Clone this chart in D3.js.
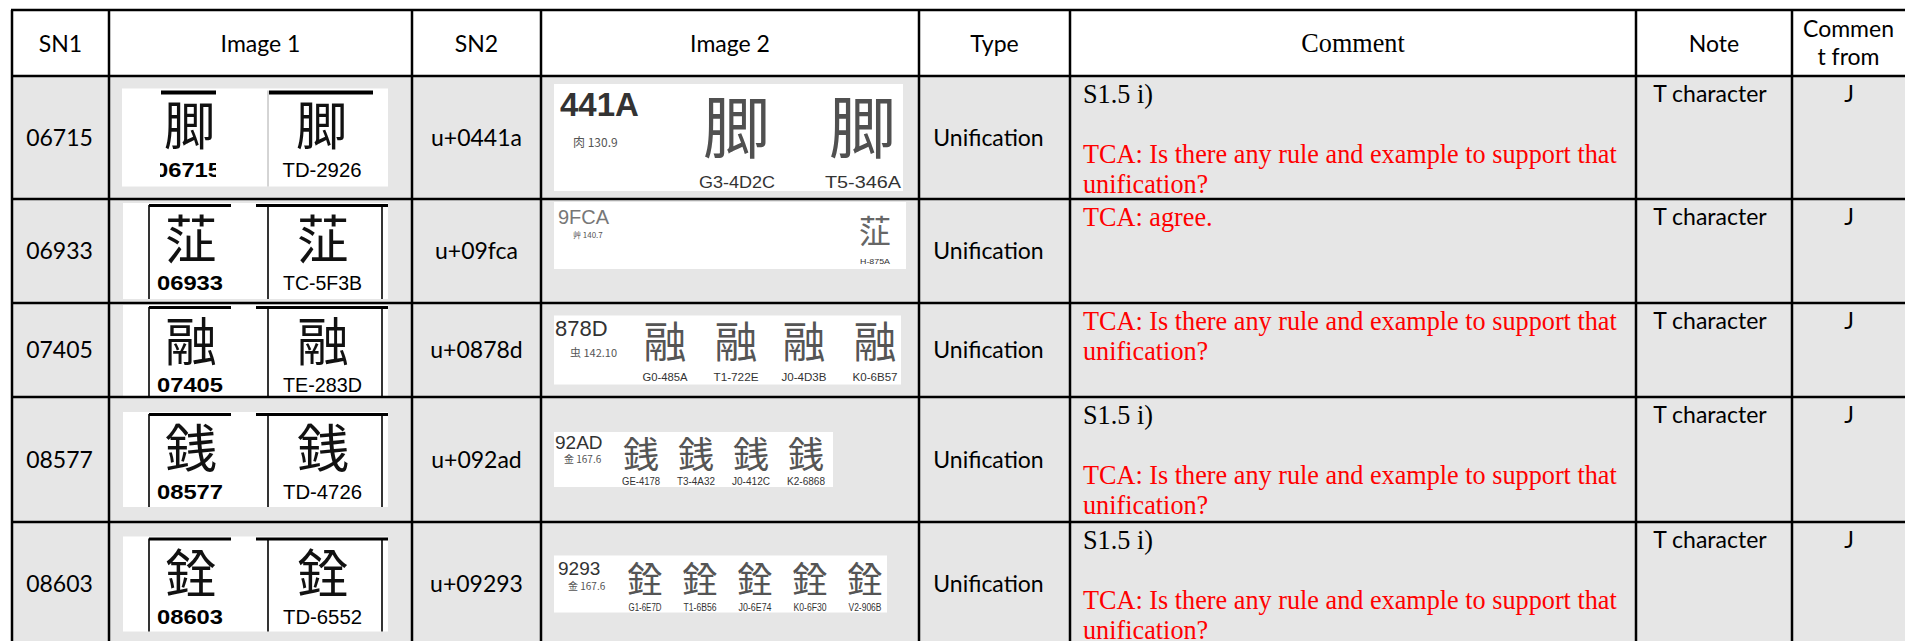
<!DOCTYPE html>
<html><head><meta charset="utf-8">
<script src="https://cdn.jsdelivr.net/npm/d3@7"></script>
<style>html,body{margin:0;padding:0;background:#fff;overflow:hidden}</style>
</head><body><svg id="c" width="1905" height="641"></svg>
<script>
// ---------- data ----------
const headers = [["SN1"],["Image 1"],["SN2"],["Image 2"],["Type"],["Comment"],["Note"],["Commen","t from"]];
const sn1 = ["06715","06933","07405","08577","08603"];
const sn2 = ["u+0441a","u+09fca","u+0878d","u+092ad","u+09293"];
const glyphs = ["\u441A","\u9FCA","\u878D","\u92AD","\u9293"];
const img1Labels = ["TD-2926","TC-5F3B","TE-283D","TD-4726","TD-6552"];
const img2Codes = ["441A","9FCA","878D","92AD","9293"];
const img2Radicals = ["肉 130.9","艸 140.7","虫 142.10","金 167.6","金 167.6"];
const img2Sources = [
  ["G3-4D2C","T5-346A"],
  ["H-875A"],
  ["G0-485A","T1-722E","J0-4D3B","K0-6B57"],
  ["GE-4178","T3-4A32","J0-412C","K2-6868"],
  ["G1-6E7D","T1-6B56","J0-6E74","K0-6F30","V2-906B"]
];
const types = ["Unification","Unification","Unification","Unification","Unification"];
const commentRefs = ["S1.5 i)","","","S1.5 i)","S1.5 i)"];
const commentTCA = [
  "TCA: Is there any rule and example to support that unification?",
  "TCA: agree.",
  "TCA: Is there any rule and example to support that unification?",
  "TCA: Is there any rule and example to support that unification?",
  "TCA: Is there any rule and example to support that unification?"
];
const notes = ["T character","T character","T character","T character","T character"];
const commentFrom = ["J","J","J","J","J"];

// ---------- layout ----------
const W = 1905, H = 641;
const colEdges = [12,109,412,541,919,1070,1636,1792,1905];
const rowEdges = [10,76,199,303,397,522,646];
const sans = "Lato, 'Open Sans', sans-serif";
const serif = "'Liberation Serif','Times New Roman',serif";
const arial = "'Liberation Sans', Arial, sans-serif";
const cjk = "'Noto Sans CJK TC','Noto Sans CJK JP','Noto Sans CJK SC',sans-serif";
const bodyFill = "#e6e6e6";
const sfs = 23;

const img1Layout = [
  {style:"open", x:122, w:266, h:98},
  {style:"framed", x:123, w:265, h:96},
  {style:"framed", x:123, w:265, h:92},
  {style:"framed", x:123, w:265, h:95},
  {style:"framed", x:123, w:265, h:95}
];
const img2Layout = [
  {w:349,h:107,align:"mid", code:{dx:6,by:32,fs:33,bold:true,fill:"#333"}, rad:{dx:19,by:63,fs:12}, chars:{x:[183,309],cy:45,fs:68,fill:"#505050"}, lab:{by:104,fs:17,tl:76}},
  {w:352,h:67,align:"top", code:{dx:4,by:22,fs:20,bold:false,fill:"#777"}, rad:{dx:19,by:36,fs:8}, chars:{x:[321],cy:29,fs:32,fill:"#666"}, lab:{by:62,fs:8,tl:30}},
  {w:347,h:69,align:"mid", code:{dx:1,by:20,fs:22,bold:false,fill:"#333"}, rad:{dx:16,by:41,fs:11}, chars:{x:[111,182,250,321],cy:27,fs:43,fill:"#555"}, lab:{by:65,fs:11,tl:45}},
  {w:279,h:55,align:"mid", code:{dx:1,by:17,fs:19,bold:false,fill:"#333"}, rad:{dx:10,by:31,fs:10}, chars:{x:[87,142,197,252],cy:23,fs:36,fill:"#555"}, lab:{by:53,fs:10,tl:38}},
  {w:333,h:57,align:"mid", code:{dx:4,by:19,fs:19,bold:false,fill:"#333"}, rad:{dx:14,by:34,fs:10}, chars:{x:[91,146,201,256,311],cy:25,fs:36,fill:"#555"}, lab:{by:55,fs:10,tl:33}}
];
const img2X = 554;

const svg = d3.select("#c");
const rows = d3.range(sn1.length);
const colX = d3.scaleOrdinal().domain(d3.range(8)).range(d3.range(8).map(i => (colEdges[i]+colEdges[i+1])/2));
const rTop = i => rowEdges[i+1], rBot = i => rowEdges[i+2];
const rMid = i => (rTop(i)+rBot(i))/2;

// backgrounds
svg.append("rect").attr("x",colEdges[0]).attr("y",rowEdges[0]).attr("width",W-colEdges[0]).attr("height",rowEdges[1]-rowEdges[0]).attr("fill","#fff");
svg.selectAll("rect.rowbg").data(rows).join("rect").attr("class","rowbg")
  .attr("x",colEdges[0]).attr("y",i=>rTop(i)).attr("width",W-colEdges[0]).attr("height",i=>rBot(i)-rTop(i)).attr("fill",bodyFill);

// headers
const hg = svg.selectAll("g.hdr").data(headers).join("g").attr("class","hdr");
hg.each(function(lines,ci){
  const g = d3.select(this);
  const base = lines.length === 1 ? [52] : [37,65];
  g.selectAll("text").data(lines).join("text")
    .attr("x", colX(ci)).attr("y",(d,k)=>base[k]).attr("text-anchor","middle")
    .attr("font-family", ci===5 ? serif : sans).attr("font-size", ci===5 ? 27 : sfs)
    .attr("fill","#000").text(d=>d);
});

// simple centered columns
function centerCol(ci, arr, dy, dx){
  svg.selectAll("text.c"+ci).data(arr).join("text").attr("class","c"+ci)
    .attr("x", colX(ci) + (dx||0)).attr("y",(d,i)=> dy==null ? rMid(i)+8 : rTop(i)+dy)
    .attr("text-anchor","middle").attr("font-family",sans).attr("font-size",sfs).attr("fill","#000").text(d=>d);
}
centerCol(0, sn1, null, -1);
centerCol(2, sn2);
centerCol(4, types, null, -6);
centerCol(6, notes, 26, -4);
svg.selectAll("text.c7").data(commentFrom).join("text").attr("class","c7")
  .attr("x", 1849).attr("y",(d,i)=>rTop(i)+26).attr("text-anchor","middle")
  .attr("font-family",sans).attr("font-size",sfs).attr("fill","#000").text(d=>d);

// Image 1 panels
const defs = svg.append("defs");
rows.forEach(i=>{
  const L = img1Layout[i];
  const top = rTop(i) + Math.max(2, (rBot(i)-rTop(i)-L.h)/2);
  const g = svg.append("g");
  g.append("rect").attr("x",L.x).attr("y",top).attr("width",L.w).attr("height",L.h).attr("fill","#fff");
  const c1 = L.x+68, c2 = L.x+200;
  if (L.style === "framed"){
    [149,268,382].forEach(x=> g.append("line").attr("x1",x).attr("x2",x).attr("y1",top+2).attr("y2",top+L.h).attr("stroke","#000").attr("stroke-width",1.6));
    g.append("rect").attr("x",149).attr("y",top+1).attr("width",82).attr("height",3).attr("fill","#000");
    g.append("rect").attr("x",256).attr("y",top+1).attr("width",132).attr("height",3).attr("fill","#000");
    g.append("text").attr("x",157).attr("y",top+87).attr("font-family",arial).attr("font-weight","bold").attr("font-size",20)
      .attr("textLength",66).attr("lengthAdjust","spacingAndGlyphs").attr("fill","#000").text(sn1[i]);
    g.append("text").attr("x",283).attr("y",top+87).attr("font-family",arial).attr("font-size",20)
      .attr("textLength",79).attr("lengthAdjust","spacingAndGlyphs").attr("fill","#000").text(img1Labels[i]);
  } else {
    g.append("line").attr("x1",268).attr("x2",268).attr("y1",top+2).attr("y2",top+L.h).attr("stroke","#aaa").attr("stroke-width",1);
    g.append("rect").attr("x",161).attr("y",top+2).attr("width",55).attr("height",4).attr("fill","#000");
    g.append("rect").attr("x",269).attr("y",top+2).attr("width",104).attr("height",4).attr("fill","#000");
    defs.append("clipPath").attr("id","clip1").append("rect").attr("x",160).attr("y",top).attr("width",56).attr("height",L.h);
    g.append("text").attr("x",188).attr("y",top+88).attr("text-anchor","middle").attr("font-family",arial).attr("font-weight","bold").attr("font-size",20)
      .attr("textLength",66).attr("lengthAdjust","spacingAndGlyphs").attr("clip-path","url(#clip1)").attr("fill","#000").text(sn1[i]);
    g.append("text").attr("x",322).attr("y",top+88).attr("text-anchor","middle").attr("font-family",arial).attr("font-size",20)
      .attr("textLength",79).attr("lengthAdjust","spacingAndGlyphs").attr("fill","#000").text(img1Labels[i]);
  }
  [c1,c2].forEach(cx=> g.append("text").attr("x",cx).attr("y",top+56).attr("text-anchor","middle")
    .attr("font-family",cjk).attr("font-size",52).attr("fill","#111").text(glyphs[i]));
});

// Image 2 panels
rows.forEach(i=>{
  const L = img2Layout[i];
  const top = L.align === "top" ? rTop(i)+3 : rMid(i) - L.h/2;
  const g = svg.append("g").attr("transform",`translate(${img2X},${top})`);
  g.append("rect").attr("width",L.w).attr("height",L.h).attr("fill","#fff");
  g.append("text").attr("x",L.code.dx).attr("y",L.code.by).attr("font-family",arial).attr("font-size",L.code.fs)
    .attr("font-weight",L.code.bold?"bold":"normal").attr("fill",L.code.fill).text(img2Codes[i]);
  g.append("text").attr("x",L.rad.dx).attr("y",L.rad.by).attr("font-family",cjk+","+arial).attr("font-size",L.rad.fs)
    .attr("fill","#555").text(img2Radicals[i]);
  const srcs = img2Sources[i];
  g.selectAll("text.ch").data(srcs).join("text").attr("class","ch")
    .attr("x",(d,k)=>L.chars.x[k]).attr("y",L.chars.cy + 0.36*L.chars.fs).attr("text-anchor","middle")
    .attr("font-family",cjk).attr("font-size",L.chars.fs).attr("fill",L.chars.fill).text(glyphs[i]);
  g.selectAll("text.lb").data(srcs).join("text").attr("class","lb")
    .attr("x",(d,k)=>L.chars.x[k] - L.lab.tl/2).attr("y",L.lab.by)
    .attr("font-family",arial).attr("font-size",L.lab.fs).attr("textLength",L.lab.tl).attr("lengthAdjust","spacingAndGlyphs")
    .attr("fill","#333").text(d=>d);
});

// Comments (serif, slightly condensed)
const cfs = 27;
const meas = svg.append("text").attr("font-family",serif).attr("font-size",cfs);
const tw = s => { meas.text(s); return meas.node().getComputedTextLength(); };
const sx = 534 / tw("TCA: Is there any rule and example to support that");
const maxW = 548 / sx;
function wrap(s){
  const words = s.split(" "); const out = []; let line = "";
  words.forEach(w=>{ const t = line ? line+" "+w : w; if (tw(t) > maxW && line){ out.push(line); line = w; } else line = t; });
  if (line) out.push(line); return out;
}
const lineH = 30;
rows.forEach(i=>{
  const lines = [];
  if (commentRefs[i]) { lines.push({t:commentRefs[i], c:"#000"}); lines.push({t:"", c:"#000"}); }
  wrap(commentTCA[i]).forEach(t=>lines.push({t, c:"#ff0000"}));
  const g = svg.append("g").attr("transform",`translate(1083,${rTop(i)+27}) scale(${sx},1)`);
  g.selectAll("text").data(lines).join("text").attr("x",0).attr("y",(d,k)=>k*lineH)
    .attr("font-family",serif).attr("font-size",cfs).attr("fill",d=>d.c).text(d=>d.t);
});
meas.remove();
// header "Comment" uses same condensation
hg.filter((d,i)=>i===5).select("text").attr("transform",`translate(${colX(5)*(1-sx)},0) scale(${sx},1)`);

// grid lines
svg.selectAll("line.h").data(rowEdges.slice(0,-1)).join("line").attr("class","h")
  .attr("x1",colEdges[0]-1).attr("x2",W).attr("y1",d=>d).attr("y2",d=>d).attr("stroke","#000").attr("stroke-width",2.5);
svg.selectAll("line.v").data(colEdges.slice(0,-1)).join("line").attr("class","v")
  .attr("x1",d=>d).attr("x2",d=>d).attr("y1",rowEdges[0]).attr("y2",H).attr("stroke","#000").attr("stroke-width",2.5);
</script>
</body></html>
